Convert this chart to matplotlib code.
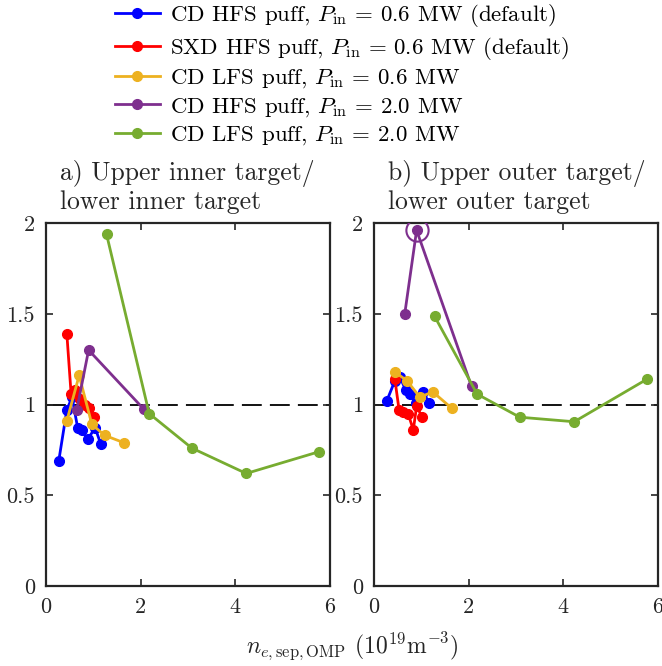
import matplotlib
matplotlib.use("Agg")
import matplotlib.pyplot as plt
from matplotlib.ticker import FixedLocator, FuncFormatter

plt.rcParams['font.family'] = 'serif'
plt.rcParams['font.serif'] = ['cmr10']
plt.rcParams['mathtext.fontset'] = 'cm'
plt.rcParams['axes.unicode_minus'] = False
plt.rcParams['axes.formatter.use_mathtext'] = True

# ---- data ----
labels = [r"CD HFS puff, $P_{\rm in}$ = 0.6 MW (default)",
          r"SXD HFS puff, $P_{\rm in}$ = 0.6 MW (default)",
          r"CD LFS puff, $P_{\rm in}$ = 0.6 MW",
          r"CD HFS puff, $P_{\rm in}$ = 2.0 MW",
          r"CD LFS puff, $P_{\rm in}$ = 2.0 MW"]
colors = ['#0000ff', '#ff0000', '#edb120', '#7e2f8e', '#77ac30']

cd_hfs_06_x = [0.27, 0.44, 0.55, 0.67, 0.75, 0.88, 1.04, 1.16]
cd_hfs_06_inner = [0.69, 0.97, 1.04, 0.87, 0.86, 0.81, 0.87, 0.78]
cd_hfs_06_outer = [1.02, 1.13, 1.15, 1.08, 1.06, 1.01, 1.07, 1.01]

sxd_hfs_06_x = [0.44, 0.53, 0.61, 0.72, 0.83, 0.90, 1.02]
sxd_hfs_06_inner = [1.39, 1.06, 1.08, 1.03, 1.00, 0.98, 0.93]
sxd_hfs_06_outer = [1.14, 0.97, 0.96, 0.95, 0.86, 0.99, 0.93]

cd_lfs_06_x = [0.44, 0.70, 0.97, 1.24, 1.64]
cd_lfs_06_inner = [0.91, 1.16, 0.89, 0.83, 0.79]
cd_lfs_06_outer = [1.18, 1.13, 1.04, 1.07, 0.98]

cd_hfs_20_x = [0.65, 0.90, 2.06]
cd_hfs_20_inner = [0.97, 1.30, 0.976]
cd_hfs_20_outer = [1.50, 1.96, 1.10]

cd_lfs_20_x = [1.28, 2.18, 3.08, 4.23, 5.77]
cd_lfs_20_inner = [1.937, 0.95, 0.76, 0.62, 0.74]
cd_lfs_20_outer = [1.486, 1.057, 0.93, 0.905, 1.14]

highlight_x = [0.90]
highlight_y = [1.96]

xs = [cd_hfs_06_x, sxd_hfs_06_x, cd_lfs_06_x, cd_hfs_20_x, cd_lfs_20_x]
inner = [cd_hfs_06_inner, sxd_hfs_06_inner, cd_lfs_06_inner, cd_hfs_20_inner, cd_lfs_20_inner]
outer = [cd_hfs_06_outer, sxd_hfs_06_outer, cd_lfs_06_outer, cd_hfs_20_outer, cd_lfs_20_outer]

xticks = [0, 2, 4, 6]
yticks = [0, 0.5, 1, 1.5, 2]

W, H = 662, 666
fig = plt.figure(figsize=(W/100, H/100), dpi=100)
axL = fig.add_axes([46/W, (H-586)/H, 284/W, 363/H])
axR = fig.add_axes([374/W, (H-586)/H, 284/W, 363/H])

def fmt(v, pos):
    return ('%g' % v)

handles = []
for ax, ys, title in [(axL, inner, "a) Upper inner target/\nlower inner target"),
                      (axR, outer, "b) Upper outer target/\nlower outer target")]:
    ax.axhline(1, color='k', ls=(0, (11, 4.5)), lw=1.3, zorder=1)
    for x, y, c, lab in zip(xs, ys, colors, labels):
        h, = ax.plot(x, y, '-o', color=c, lw=2, ms=7, label=lab, zorder=3)
        if ax is axL:
            handles.append(h)
    ax.set_xlim(0, 6)
    ax.set_ylim(0, 2)
    ax.xaxis.set_major_locator(FixedLocator(xticks))
    ax.yaxis.set_major_locator(FixedLocator(yticks))
    ax.yaxis.set_major_formatter(FuncFormatter(fmt))
    ax.xaxis.set_major_formatter(FuncFormatter(fmt))
    ax.tick_params(direction='in', top=True, right=True, length=5, width=1.2,
                   labelsize=16, colors='#262626', pad=8)
    for s in ax.spines.values():
        s.set_linewidth(1.6)
        s.set_color('#262626')
    ax.text(0.05, 1.025, title, transform=ax.transAxes, ha='left', va='bottom',
            fontsize=18.5, linespacing=1.15, color='#262626')

axR.plot(highlight_x, highlight_y, 'o', mfc='none', mec=colors[3], ms=16, mew=1.5, zorder=4)

fig.text(352/W, (H-647)/H, r"$n_{e,\rm sep,OMP}$ $(10^{19}\rm m^{-3})$", ha='center', va='center',
         fontsize=17, color='#262626')

fig.legend(handles=handles, loc='upper left', bbox_to_anchor=(115/W, 1 - 2/H),
           frameon=False, fontsize=16.5, handlelength=1.95, handletextpad=0.45,
           labelspacing=0.25, borderpad=0, borderaxespad=0)

fig.savefig('out.png', dpi=100)
